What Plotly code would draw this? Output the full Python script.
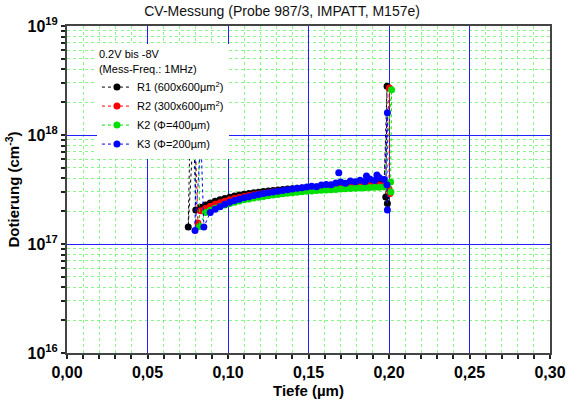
import plotly.graph_objects as go

# Depth grid of the measured doping band (µm)
DEPTH = [0.080, 0.083, 0.086, 0.089, 0.092, 0.095, 0.098, 0.101, 0.104, 0.107,
         0.110, 0.113, 0.116, 0.119, 0.122, 0.125, 0.128, 0.131, 0.134, 0.137,
         0.140, 0.143, 0.146, 0.149, 0.152, 0.155, 0.158, 0.161, 0.164, 0.167,
         0.170, 0.173, 0.176, 0.179, 0.182, 0.185, 0.188, 0.191, 0.194, 0.197]

# Doping in units of 1e17 cm^-3 (None = no point at that depth)
R1_BAND = [2.05, 2.17, 2.28, 2.38, 2.47, 2.55, 2.62, 2.69, 2.75, 2.81,
           2.86, 2.91, 2.95, 2.99, 3.03, 3.07, 3.10, 3.13, 3.16, 3.19,
           3.22, 3.25, 3.27, 3.30, 3.32, 3.34, 3.36, 3.38, 3.40, 3.42,
           3.44, 3.46, 3.47, 3.49, 3.50, 3.52, 3.53, 3.54, 3.56, 3.57]
R2_BAND = [None, 2.02, 2.12, 2.22, 2.31, 2.39, 2.47, 2.54, 2.61, 2.67,
           2.73, 2.78, 2.83, 2.88, 2.92, 2.96, 3.00, 3.04, 3.07, 3.10,
           3.13, 3.16, 3.19, 3.21, 3.24, 3.26, 3.28, 3.30, 3.32, 3.34,
           3.36, 3.38, 3.39, 3.41, 3.42, 3.44, 3.45, 3.46, 3.47, 3.48]
K2_BAND = [None, None, 1.95, 2.04, 2.13, 2.21, 2.28, 2.35, 2.42, 2.48,
           2.54, 2.59, 2.64, 2.69, 2.73, 2.77, 2.81, 2.85, 2.89, 2.92,
           2.95, 2.98, 3.01, 3.04, 3.06, 3.09, 3.11, 3.13, 3.15, 3.17,
           3.19, 3.21, 3.23, 3.25, 3.27, 3.28, 3.30, 3.31, 3.32, 3.33]
K3_BAND = [None, None, None, 1.95, 2.08, 2.20, 2.31, 2.41, 2.50, 2.58,
           2.65, 2.72, 2.78, 2.84, 2.90, 2.95, 3.00, 3.05, 3.10, 3.14,
           3.19, 3.24, 3.28, 3.34, 3.38, 3.36, 3.48, 3.52, 3.50, 3.62,
           3.70, 3.60, 3.78, 3.72, 3.85, 3.75, 3.95, 3.82, 4.05, 3.90]

# Surface-side edge (depletion start) and back-side spike near 0.2 µm
R1_HEAD_X, R1_HEAD_Y = [0.0768, 0.0753, 0.0786], [22, 1.43, 12]
R2_HEAD_X, R2_HEAD_Y = [0.0790, 0.0813], [20, 1.56]
K2_HEAD_X, K2_HEAD_Y = [0.0815, 0.0824], [18, 1.45]
K3_HEAD_X, K3_HEAD_Y = [0.0802, 0.0795, 0.0832, 0.0850], [16, 1.33, 9, 1.43]

R1_TAIL_X, R1_TAIL_Y = [0.1988, 0.1980, 0.1990], [28, 2.7, 2.35]
R2_TAIL_X, R2_TAIL_Y = [0.2003, 0.2000, 0.2006], [27, 3.2, 2.9]
K2_TAIL_X, K2_TAIL_Y = [0.2016, 0.2010, 0.2012], [26, 3.7, 3.0]
K3_TAIL_X, K3_TAIL_Y = [0.1990, 0.1987, 0.1990], [16, 3.5, 2.05]

# Isolated scattered K3 points above the band
K3_EXTRA_X = [0.1688, 0.1860, 0.1925]
K3_EXTRA_Y = [4.5, 4.2, 4.3]

SERIES = [
    ("R1 (600x600µm<sup>2</sup>)", "#000000", R1_HEAD_X, R1_HEAD_Y, R1_BAND, R1_TAIL_X, R1_TAIL_Y),
    ("R2 (300x600µm<sup>2</sup>)", "#ff0000", R2_HEAD_X, R2_HEAD_Y, R2_BAND, R2_TAIL_X, R2_TAIL_Y),
    ("K2 (Φ=400µm)", "#00e000", K2_HEAD_X, K2_HEAD_Y, K2_BAND, K2_TAIL_X, K2_TAIL_Y),
    ("K3 (Φ=200µm)", "#0000ff", K3_HEAD_X, K3_HEAD_Y, K3_BAND, K3_TAIL_X, K3_TAIL_Y),
]

SCALE = 1e17
TICK_VALS = [1e16, 1e17, 1e18, 1e19]
TICK_TEXT = ["10<sup>16</sup>", "10<sup>17</sup>", "10<sup>18</sup>", "10<sup>19</sup>"]

fig = go.Figure()
for name, color, hx, hy, band, tx, ty in SERIES:
    bx = [d for d, v in zip(DEPTH, band) if v is not None]
    by = [v for v in band if v is not None]
    xs = hx + bx + tx
    ys = [v * SCALE for v in hy + by + ty]
    fig.add_trace(go.Scatter(
        x=xs, y=ys, name=name, mode="lines+markers",
        line=dict(color=color, width=1, dash="dot"),
        marker=dict(color=color, size=7, symbol="circle"),
    ))

fig.add_trace(go.Scatter(
    x=K3_EXTRA_X, y=[v * SCALE for v in K3_EXTRA_Y], mode="markers",
    marker=dict(color="#0000ff", size=7), showlegend=False,
))

font_family = "Liberation Sans, Arial, sans-serif"
minor_grid = "rgba(60,240,60,0.6)"

fig.update_layout(
    width=578, height=409,
    margin=dict(l=67, r=17, t=26, b=47),
    paper_bgcolor="white", plot_bgcolor="white",
    separators=",.",
    font=dict(family=font_family, size=12, color="black"),
    title=dict(text="CV-Messung (Probe 987/3, IMPATT, M157e)",
               x=0.488, xanchor="center", y=0.972, yanchor="middle",
               font=dict(size=14, color="#111")),
    legend=dict(
        x=0.062, y=0.945, xanchor="left", yanchor="top",
        bgcolor="white", borderwidth=0,
        font=dict(size=11),
        title=dict(text="0.2V bis -8V<br>(Mess-Freq.: 1MHz)", font=dict(size=11)),
        itemwidth=30, tracegroupgap=0,
    ),
    showlegend=True,
)

fig.update_xaxes(
    range=[0, 0.3], dtick=0.05, tick0=0, tickformat=".2f",
    showgrid=True, gridcolor="#2020ff", gridwidth=1,
    ticks="outside", ticklen=4, tickwidth=1.5, tickcolor="#222",
    showline=True, linecolor="#444", linewidth=2, mirror=True,
    tickfont=dict(size=16, weight="bold"),
    title=dict(text="Tiefe (µm)", font=dict(size=15, weight="bold"), standoff=5),
    minor=dict(dtick=0.01, showgrid=True, gridcolor=minor_grid, griddash="dot",
               gridwidth=1, ticks="outside", ticklen=4, tickcolor="#222"),
    zeroline=False,
)

fig.update_yaxes(
    type="log", range=[16, 19],
    tickvals=TICK_VALS, ticktext=TICK_TEXT,
    showgrid=True, gridcolor="#2020ff", gridwidth=1,
    ticks="outside", ticklen=4, tickwidth=1.5, tickcolor="#222",
    showline=True, linecolor="#444", linewidth=2, mirror=True,
    tickfont=dict(size=16, weight="bold"),
    title=dict(text="Dotierung (cm<sup>-3</sup>)", font=dict(size=15, weight="bold"), standoff=4),
    minor=dict(dtick="D1", showgrid=True, gridcolor=minor_grid, griddash="dot",
               gridwidth=1, ticks="outside", ticklen=4, tickcolor="#222"),
    zeroline=False,
)

fig.write_html("out.html")
